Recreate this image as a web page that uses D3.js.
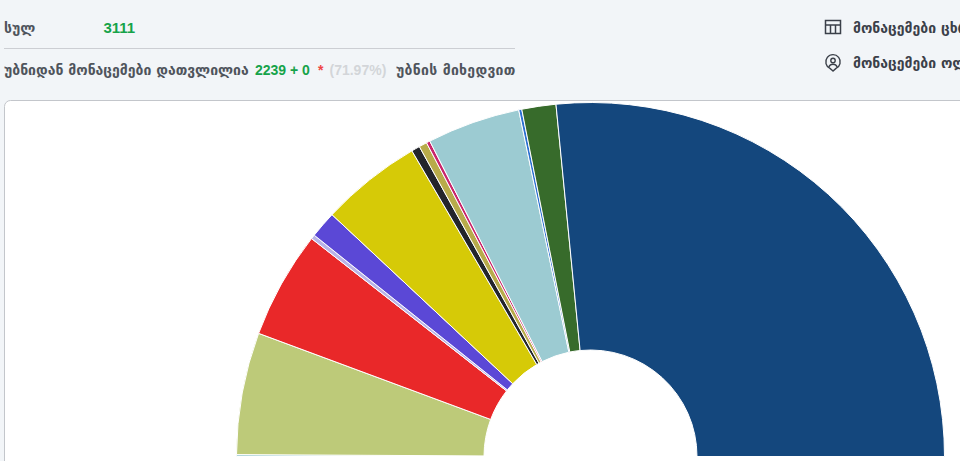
<!DOCTYPE html>
<html lang="ka">
<head>
<meta charset="UTF-8">
<title>მონაცემები</title>
<script src="https://cdnjs.cloudflare.com/ajax/libs/d3/7.8.5/d3.min.js"></script>
<style>
    html, body { margin: 0; padding: 0; width: 960px; height: 461px; overflow: hidden; background: #f2f5f8; }
    svg { display: block; }
    text { font-family: "DejaVu Sans", sans-serif; font-size: 14px; font-weight: bold; fill: #4f545c; }
    .num { font-family: "Liberation Sans", Arial, sans-serif; font-size: 14px; fill: #16a34a; }
    .pct { font-family: "Liberation Sans", Arial, sans-serif; font-size: 14px; fill: #d3d5d9; }
    .star { font-family: "Liberation Sans", Arial, sans-serif; font-size: 14px; fill: #ef4444; }
    .link { fill: #3b4049; }
</style>
</head>
<body>
<div id="chart"></div>
<script>
    // share of votes, left to right
    const shares = [0.17, 11.14, 9.8, 0.39, 2.44, 9.23, 0.77, 0.73, 0.33, 8.5, 0.28, 3.11, 53.11];
    const colors = ["#9ccbd2", "#bdca79", "#e92829", "#b9b3e6", "#5b48d6", "#d6ca07", "#23252b",
                    "#b8ab4a", "#c9256b", "#9ccbd2", "#2a6fd0", "#376b2b", "#14477d"];

    const width = 960;
    const height = 461;

    const svg = d3.select("#chart").append("svg")
        .attr("width", width)
        .attr("height", height);

    // header
    svg.append("text").attr("x", 4).attr("y", 33).text("სულ");
    svg.append("text").attr("class", "num").attr("x", 103.5).attr("y", 33).style("font-size", "15px").text("3111");
    svg.append("line").attr("x1", 4).attr("x2", 515).attr("y1", 48.5).attr("y2", 48.5)
        .attr("stroke", "#ccced3");
    svg.append("text").attr("x", 4).attr("y", 75).text("უბნიდან მონაცემები დათვლილია");
    svg.append("text").attr("class", "num").attr("x", 255).attr("y", 75).text("2239 + 0");
    svg.append("text").attr("class", "star").attr("x", 318).attr("y", 75).text("*");
    svg.append("text").attr("class", "pct").attr("x", 329.5).attr("y", 75).text("(71.97%)");
    svg.append("text").attr("x", 396).attr("y", 75).style("letter-spacing", "0.3px").text("უბნის მიხედვით");

    // table icon
    const table = svg.append("g").attr("fill", "none").attr("stroke", "#3b4049").attr("stroke-width", 1.5);
    table.append("rect").attr("x", 825.5).attr("y", 20.5).attr("width", 15).attr("height", 13);
    table.append("path").attr("d", "M825 25h16M830.5 25v9M835.5 25v9");

    // pin icon
    const pin = svg.append("g").attr("fill", "none").attr("stroke", "#3b4049").attr("stroke-width", 1.4);
    pin.append("path").attr("d", "M833 71l-3-2.6a7.2 7.2 0 1 1 6 0z");
    pin.append("circle").attr("cx", 833).attr("cy", 60.5).attr("r", 2.2);
    pin.append("path").attr("d", "M828.8 67a4.6 4.6 0 0 1 8.4 0");

    svg.append("text").attr("class", "link").attr("x", 853).attr("y", 33).text("მონაცემები ცხრილში");
    svg.append("text").attr("class", "link").attr("x", 853).attr("y", 68).text("მონაცემები ოლქების მიხედვით");

    // card behind the chart, runs off the right edge
    svg.append("rect")
        .attr("x", 4.5).attr("y", 100.5)
        .attr("width", 1000).attr("height", 500)
        .attr("rx", 6)
        .attr("fill", "#fff")
        .attr("stroke", "#c3c6cb");

    // half donut
    const pie = d3.pie()
        .sort(null)
        .startAngle(-Math.PI / 2)
        .endAngle(Math.PI / 2);

    const arc = d3.arc()
        .innerRadius(106.5)
        .outerRadius(354);

    svg.append("g")
        .attr("transform", "translate(590.5,456.5)")
        .selectAll("path")
        .data(pie(shares))
        .enter().append("path")
        .attr("d", arc)
        .attr("fill", (d, i) => colors[i])
        .attr("stroke", "#fff")
        .attr("stroke-width", 1);
</script>
</body>
</html>
